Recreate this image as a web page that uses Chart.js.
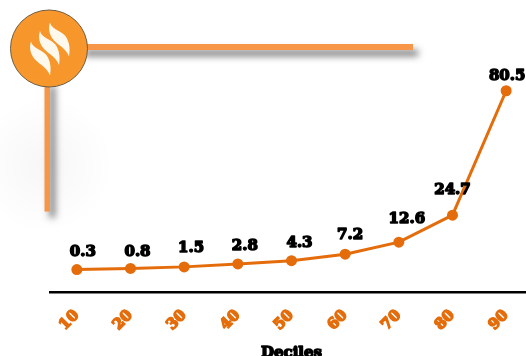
<!DOCTYPE html>
<html><head><meta charset="utf-8">
<style>html,body{margin:0;padding:0;width:526px;height:356px;overflow:hidden;background:#fff}
#wrap{width:526px;height:356px;overflow:hidden;position:relative}
canvas{position:absolute;left:0;top:0}</style>
<script src="https://cdn.jsdelivr.net/npm/chart.js@4"></script>
</head><body><div id="wrap"><canvas id="c" width="540" height="356"></canvas></div>
<script>
const deciles = ['10','20','30','40','50','60','70','80','90'];
const shares = [0.3,0.8,1.5,2.8,4.3,7.2,12.6,24.7,80.5];
const axisTitle = 'Deciles';
const ORANGE = '#E46C0A', BAR = '#F79646';
const FONT = '"DejaVu Serif"';
// hand-placed label nudges relative to each point, as in the reference
const labelDx = [6,7,7,7,8,5,8,0,1];
const labelDy = [17,16,19,18,18,19,23.5,25,15];

const decor = {
  id:'decor',
  beforeDraw(ch){
    const c = ch.ctx; c.save();
    const g = c.createRadialGradient(45,165,5,45,165,68);
    g.addColorStop(0,'rgba(0,0,0,0.03)'); g.addColorStop(1,'rgba(0,0,0,0)');
    c.fillStyle = g; c.fillRect(0,90,120,150);
    c.shadowColor='rgba(0,0,0,0.55)'; c.shadowBlur=7; c.shadowOffsetX=5; c.shadowOffsetY=6;
    c.fillStyle=BAR;
    c.fillRect(80,44,333,6);
    c.fillRect(44.5,80,5.5,131.5);
    c.restore();
    c.save();
    const rg = c.createRadialGradient(49,48,30,49,48,39);
    rg.addColorStop(0,'#F7962A'); rg.addColorStop(0.9,'#F8982C'); rg.addColorStop(1,'#F5A850');
    c.beginPath(); c.arc(49,48.5,38.5,0,Math.PI*2); c.fillStyle=rg; c.fill();
    c.lineWidth=1; c.strokeStyle='#6E5B3E'; c.stroke();
    c.fillStyle='#FFF8EC';
    [[41,58.5],[50,48],[60,39.5]].forEach(([fx,fy])=>{
      c.save(); c.translate(fx,fy);
      c.beginPath();
      c.moveTo(-10,-17);
      c.bezierCurveTo(-8,-9,3,-9,7,-1);
      c.bezierCurveTo(10,5,10,11,9,17);
      c.bezierCurveTo(6,9,0,7,-6,1);
      c.bezierCurveTo(-11,-5,-12,-11,-10,-17);
      c.closePath(); c.fill();
      c.restore();
    });
    c.restore();
  }
};
const labels = {
  id:'valueLabels',
  afterDatasetsDraw(ch){
    const c = ch.ctx, x = ch.scales.x, y = ch.scales.y;
    c.save();
    c.font = 'bold 15px '+FONT; c.textAlign='center'; c.textBaseline='middle';
    c.fillStyle='#000'; c.strokeStyle='#000'; c.lineWidth=1.5; c.lineJoin='round';
    shares.forEach((v,i)=>{
      const t = v.toFixed(1), px = x.getPixelForValue(i)+labelDx[i], py = y.getPixelForValue(v)-labelDy[i];
      c.strokeText(t,px,py); c.fillText(t,px,py);
    });
    const tx = (x.left+x.right)/2;
    c.strokeText(axisTitle,tx,353); c.fillText(axisTitle,tx,353);
    c.restore();
  }
};
new Chart(document.getElementById('c'),{
  type:'line',
  data:{labels:deciles,datasets:[{data:shares,borderColor:ORANGE,backgroundColor:ORANGE,borderWidth:3,
    pointRadius:5.5,pointHoverRadius:5.5,pointBackgroundColor:ORANGE,pointBorderWidth:0,tension:0,clip:false}]},
  options:{
    responsive:false,animation:false,
    layout:{padding:{left:50,right:7,top:25,bottom:8}},
    plugins:{legend:{display:false},tooltip:{enabled:false}},
    scales:{
      y:{display:false,min:-10,max:110},
      x:{offset:true,
        grid:{display:false,drawTicks:false},
        border:{display:true,color:'#000',width:2.5},
        ticks:{color:ORANGE,minRotation:45,maxRotation:45,padding:14,autoSkip:false,
          font:{family:FONT,weight:'bold',size:15},textStrokeColor:ORANGE,textStrokeWidth:1.5},
        title:{display:false}
      }
    }
  },
  plugins:[decor,labels]
});
</script></body></html>
